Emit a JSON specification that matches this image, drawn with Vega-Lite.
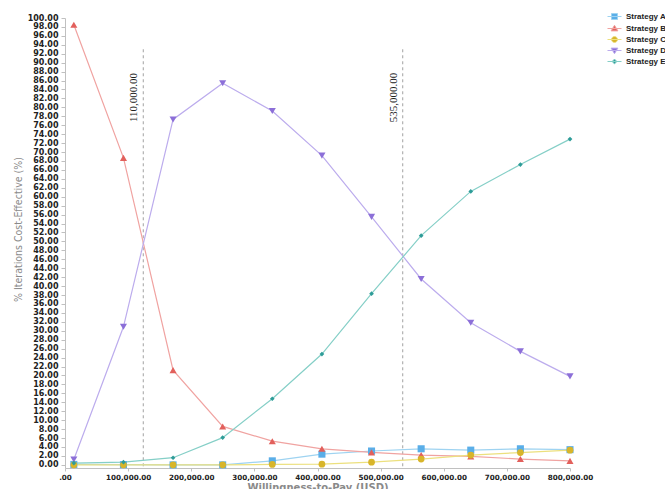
{
  "$schema": "https://vega.github.io/schema/vega-lite/v6.json",
  "width": 505,
  "height": 450,
  "autosize": "none",
  "padding": {"left": 65, "top": 18, "right": 95, "bottom": 21},
  "background": "white",
  "config": {"view": {"stroke": null}, "axis": {"grid": false}},
  "datasets": {
    "curves": [
      {"strategy": "Strategy A", "wtp": 14000, "pct": 0.1},
      {"strategy": "Strategy A", "wtp": 92600, "pct": 0.05},
      {"strategy": "Strategy A", "wtp": 171200, "pct": 0.0},
      {"strategy": "Strategy A", "wtp": 249800, "pct": 0.0},
      {"strategy": "Strategy A", "wtp": 328400, "pct": 0.9},
      {"strategy": "Strategy A", "wtp": 407000, "pct": 2.4},
      {"strategy": "Strategy A", "wtp": 485600, "pct": 3.1},
      {"strategy": "Strategy A", "wtp": 564200, "pct": 3.6},
      {"strategy": "Strategy A", "wtp": 642800, "pct": 3.3},
      {"strategy": "Strategy A", "wtp": 721400, "pct": 3.6},
      {"strategy": "Strategy A", "wtp": 800000, "pct": 3.4},
      {"strategy": "Strategy B", "wtp": 14000, "pct": 98.5},
      {"strategy": "Strategy B", "wtp": 92600, "pct": 68.7},
      {"strategy": "Strategy B", "wtp": 171200, "pct": 21.2},
      {"strategy": "Strategy B", "wtp": 249800, "pct": 8.6},
      {"strategy": "Strategy B", "wtp": 328400, "pct": 5.3},
      {"strategy": "Strategy B", "wtp": 407000, "pct": 3.6},
      {"strategy": "Strategy B", "wtp": 485600, "pct": 2.8},
      {"strategy": "Strategy B", "wtp": 564200, "pct": 2.2},
      {"strategy": "Strategy B", "wtp": 642800, "pct": 1.9},
      {"strategy": "Strategy B", "wtp": 721400, "pct": 1.3},
      {"strategy": "Strategy B", "wtp": 800000, "pct": 0.9},
      {"strategy": "Strategy C", "wtp": 14000, "pct": 0.0},
      {"strategy": "Strategy C", "wtp": 92600, "pct": 0.0},
      {"strategy": "Strategy C", "wtp": 171200, "pct": 0.0},
      {"strategy": "Strategy C", "wtp": 249800, "pct": 0.0},
      {"strategy": "Strategy C", "wtp": 328400, "pct": 0.1},
      {"strategy": "Strategy C", "wtp": 407000, "pct": 0.15},
      {"strategy": "Strategy C", "wtp": 485600, "pct": 0.6},
      {"strategy": "Strategy C", "wtp": 564200, "pct": 1.3},
      {"strategy": "Strategy C", "wtp": 642800, "pct": 2.2},
      {"strategy": "Strategy C", "wtp": 721400, "pct": 2.75},
      {"strategy": "Strategy C", "wtp": 800000, "pct": 3.3},
      {"strategy": "Strategy D", "wtp": 14000, "pct": 1.2},
      {"strategy": "Strategy D", "wtp": 92600, "pct": 30.9},
      {"strategy": "Strategy D", "wtp": 171200, "pct": 77.3},
      {"strategy": "Strategy D", "wtp": 249800, "pct": 85.4},
      {"strategy": "Strategy D", "wtp": 328400, "pct": 79.2},
      {"strategy": "Strategy D", "wtp": 407000, "pct": 69.2},
      {"strategy": "Strategy D", "wtp": 485600, "pct": 55.5},
      {"strategy": "Strategy D", "wtp": 564200, "pct": 41.6},
      {"strategy": "Strategy D", "wtp": 642800, "pct": 31.8},
      {"strategy": "Strategy D", "wtp": 721400, "pct": 25.4},
      {"strategy": "Strategy D", "wtp": 800000, "pct": 19.8},
      {"strategy": "Strategy E", "wtp": 14000, "pct": 0.4},
      {"strategy": "Strategy E", "wtp": 92600, "pct": 0.6},
      {"strategy": "Strategy E", "wtp": 171200, "pct": 1.6},
      {"strategy": "Strategy E", "wtp": 249800, "pct": 6.1},
      {"strategy": "Strategy E", "wtp": 328400, "pct": 14.8},
      {"strategy": "Strategy E", "wtp": 407000, "pct": 24.8},
      {"strategy": "Strategy E", "wtp": 485600, "pct": 38.3},
      {"strategy": "Strategy E", "wtp": 564200, "pct": 51.3},
      {"strategy": "Strategy E", "wtp": 642800, "pct": 61.2},
      {"strategy": "Strategy E", "wtp": 721400, "pct": 67.2},
      {"strategy": "Strategy E", "wtp": 800000, "pct": 72.9}
    ],
    "rules": [
      {"wtp": 124000, "pct": 93, "bottom": -0.7},
      {"wtp": 535000, "pct": 93, "bottom": -0.7}
    ],
    "labels": [
      {"wtp": 124000, "pct": 82.2, "label": "110,000.00"},
      {"wtp": 535000, "pct": 82.2, "label": "535,000.00"}
    ]
  },
  "encoding": {
    "x": {
      "field": "wtp", "type": "quantitative", "title": "Willingness-to-Pay (USD)",
      "scale": {"domain": [0, 800000], "nice": false, "zero": false},
      "axis": {
        "values": [0, 100000, 200000, 300000, 400000, 500000, 600000, 700000, 800000],
        "labelExpr": "datum.value == 0 ? '.00' : format(datum.value, ',.2f')",
        "labelFont": "DejaVu Sans", "labelFontWeight": "bold", "labelFontSize": 7.2, "labelColor": "#222222",
        "labelFlush": false, "labelOverlap": false, "labelPadding": 2,
        "tickSize": 3, "tickColor": "#c0c0c0", "domainColor": "#c0c0c0",
        "titleFont": "DejaVu Sans", "titleFontWeight": "bold", "titleFontSize": 10, "titleColor": "#8a8a8a", "titlePadding": 2
      }
    },
    "y": {
      "field": "pct", "type": "quantitative", "title": "% Iterations Cost-Effective   (%)",
      "scale": {"domain": [-0.7, 100], "nice": false, "zero": false},
      "axis": {
        "values": [0,2,4,6,8,10,12,14,16,18,20,22,24,26,28,30,32,34,36,38,40,42,44,46,48,50,52,54,56,58,60,62,64,66,68,70,72,74,76,78,80,82,84,86,88,90,92,94,96,98,100],
        "format": ".2f",
        "labelFont": "DejaVu Sans", "labelFontWeight": "bold", "labelFontSize": 8, "labelColor": "#222222",
        "labelFlush": false, "labelOverlap": false, "labelPadding": 3,
        "tickSize": 4, "tickColor": "#c0c0c0", "domainColor": "#c0c0c0",
        "titleFont": "Liberation Sans Narrow, DejaVu Sans Condensed, sans-serif", "titleFontWeight": "normal", "titleFontSize": 10.5, "titleColor": "#8a8a8a",
        "titleAngle": 270, "titleAlign": "center", "titleBaseline": "middle", "titleX": -47, "titleY": 211
      }
    }
  },
  "layer": [
    {
      "data": {"name": "rules"},
      "mark": {"type": "rule", "strokeDash": [3, 3], "color": "#8a8a8a", "strokeWidth": 0.8},
      "encoding": {"y2": {"field": "bottom"}}
    },
    {
      "data": {"name": "labels"},
      "mark": {"type": "text", "angle": 270, "baseline": "bottom", "align": "center", "font": "Liberation Serif", "fontSize": 11, "dy": -4, "color": "#222222"},
      "encoding": {"text": {"field": "label", "type": "nominal"}}
    },
    {
      "data": {"name": "curves"},
      "mark": {"type": "line", "strokeWidth": 1.2},
      "encoding": {
        "stroke": {
          "field": "strategy", "type": "nominal",
          "scale": {"domain": ["Strategy A", "Strategy B", "Strategy C", "Strategy D", "Strategy E"], "range": ["#9ed3f1", "#f0a3a1", "#ece07e", "#bcaced", "#85cfc7"]}
        }
      }
    },
    {
      "data": {"name": "curves"},
      "transform": [{"filter": "datum.strategy === 'Strategy A'"}],
      "mark": {"type": "point", "filled": true, "opacity": 1, "shape": "square", "size": 50},
      "encoding": {"color": {"field": "strategy", "type": "nominal", "scale": {"domain": ["Strategy A", "Strategy B", "Strategy C", "Strategy D", "Strategy E"], "range": ["#5AAEE8", "#E2605C", "#D8B52A", "#8C6FD8", "#2E9C98"]}}}
    },
    {
      "data": {"name": "curves"},
      "transform": [{"filter": "datum.strategy === 'Strategy B'"}],
      "mark": {"type": "point", "filled": true, "opacity": 1, "shape": "triangle-up", "size": 50},
      "encoding": {"color": {"field": "strategy", "type": "nominal", "scale": {"domain": ["Strategy A", "Strategy B", "Strategy C", "Strategy D", "Strategy E"], "range": ["#5AAEE8", "#E2605C", "#D8B52A", "#8C6FD8", "#2E9C98"]}}}
    },
    {
      "data": {"name": "curves"},
      "transform": [{"filter": "datum.strategy === 'Strategy C'"}],
      "mark": {"type": "point", "filled": true, "opacity": 1, "shape": "circle", "size": 45},
      "encoding": {"color": {"field": "strategy", "type": "nominal", "scale": {"domain": ["Strategy A", "Strategy B", "Strategy C", "Strategy D", "Strategy E"], "range": ["#5AAEE8", "#E2605C", "#D8B52A", "#8C6FD8", "#2E9C98"]}}}
    },
    {
      "data": {"name": "curves"},
      "transform": [{"filter": "datum.strategy === 'Strategy D'"}],
      "mark": {"type": "point", "filled": true, "opacity": 1, "shape": "triangle-down", "size": 50},
      "encoding": {"color": {"field": "strategy", "type": "nominal", "scale": {"domain": ["Strategy A", "Strategy B", "Strategy C", "Strategy D", "Strategy E"], "range": ["#5AAEE8", "#E2605C", "#D8B52A", "#8C6FD8", "#2E9C98"]}}}
    },
    {
      "data": {"name": "curves"},
      "transform": [{"filter": "datum.strategy === 'Strategy E'"}],
      "mark": {"type": "point", "filled": true, "opacity": 1, "shape": "diamond", "size": 22},
      "encoding": {"color": {"field": "strategy", "type": "nominal", "scale": {"domain": ["Strategy A", "Strategy B", "Strategy C", "Strategy D", "Strategy E"], "range": ["#5AAEE8", "#E2605C", "#D8B52A", "#8C6FD8", "#2E9C98"]}}}
    },
    {
      "data": {"name": "curves"},
      "mark": {"type": "point", "filled": true, "opacity": 0, "size": 64, "strokeWidth": 1},
      "encoding": {
        "color": {
          "field": "strategy", "type": "nominal",
          "scale": {"domain": ["Strategy A", "Strategy B", "Strategy C", "Strategy D", "Strategy E"], "range": ["#5AAEE8", "#E2605C", "#D8B52A", "#8C6FD8", "#2E9C98"]},
          "legend": {
            "orient": "none", "legendX": 545, "legendY": -6, "title": null, "padding": 0,
            "labelFont": "Liberation Sans", "labelFontWeight": "bold", "labelFontSize": 8, "labelColor": "#222222", "labelLimit": 200,
            "symbolSize": 64, "labelOffset": 7, "rowPadding": 1, "symbolOpacity": 1, "symbolStrokeWidth": 1
          }
        },
        "stroke": {
          "field": "strategy", "type": "nominal",
          "scale": {"domain": ["Strategy A", "Strategy B", "Strategy C", "Strategy D", "Strategy E"], "range": ["#9ed3f1", "#f0a3a1", "#ece07e", "#bcaced", "#85cfc7"]},
          "legend": {
            "orient": "none", "legendX": 545, "legendY": -6, "title": null, "padding": 0,
            "labelFont": "Liberation Sans", "labelFontWeight": "bold", "labelFontSize": 8, "labelColor": "#222222", "labelLimit": 200,
            "symbolSize": 64, "labelOffset": 7, "rowPadding": 1, "symbolOpacity": 1, "symbolStrokeWidth": 1
          }
        },
        "shape": {
          "field": "strategy", "type": "nominal",
          "scale": {"domain": ["Strategy A", "Strategy B", "Strategy C", "Strategy D", "Strategy E"], "range": ["M-1.75,0H1.75M-0.75,-0.75H0.75V0.75H-0.75Z", "M-1.75,0H1.75M0,-0.8L0.85,0.6H-0.85Z", "M-1.75,0H1.75M-0.75,0A0.75,0.75 0 1,0 0.75,0A0.75,0.75 0 1,0 -0.75,0Z", "M-1.75,0H1.75M0,0.8L0.85,-0.6H-0.85Z", "M-1.75,0H1.75M0,-0.6L0.6,0L0,0.6L-0.6,0Z"]},
          "legend": {
            "orient": "none", "legendX": 545, "legendY": -6, "title": null, "padding": 0,
            "labelFont": "Liberation Sans", "labelFontWeight": "bold", "labelFontSize": 8, "labelColor": "#222222", "labelLimit": 200,
            "symbolSize": 64, "labelOffset": 7, "rowPadding": 1, "symbolOpacity": 1, "symbolStrokeWidth": 1
          }
        }
      }
    }
  ]
}
